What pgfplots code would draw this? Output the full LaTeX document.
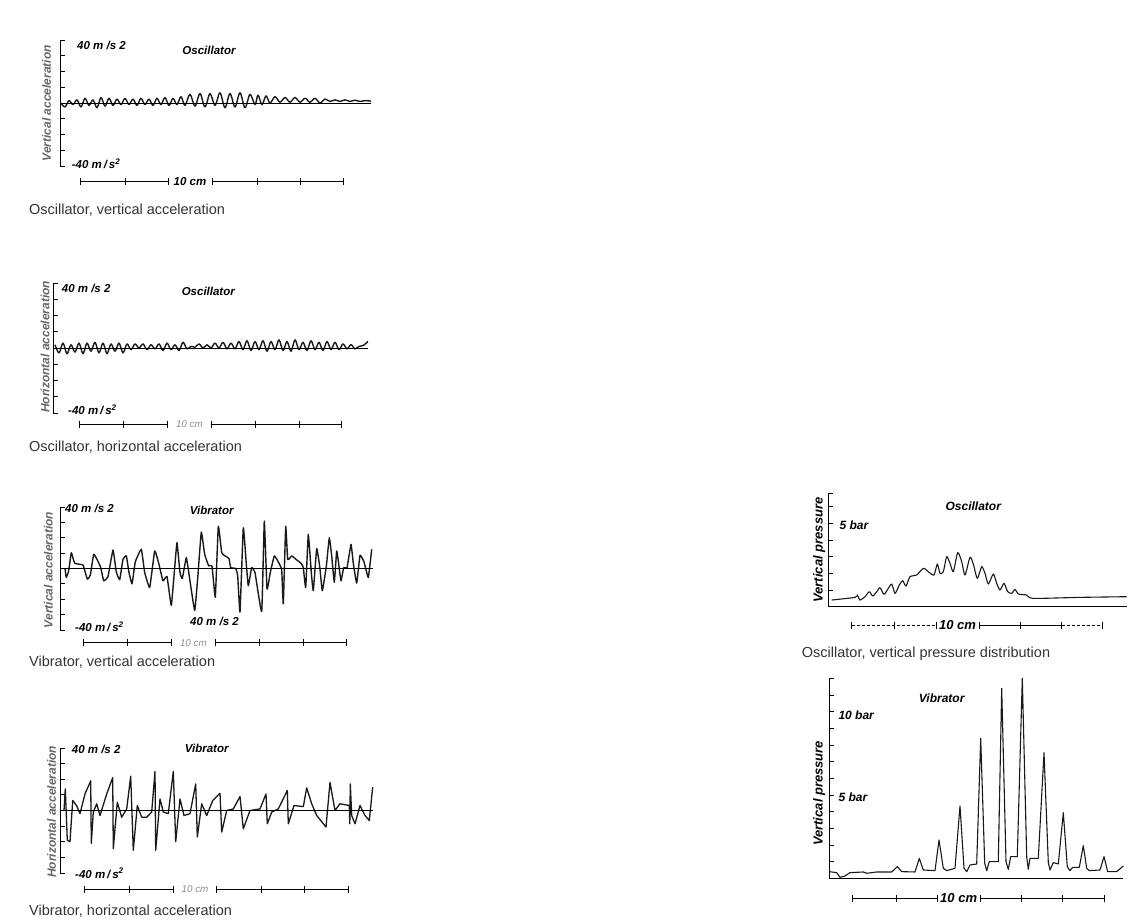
\documentclass[border=0pt]{standalone}
\usepackage{pgfplots}
\pgfplotsset{compat=1.18}
\usepackage{fontspec}
\setmainfont{Liberation Sans}
\newcommand\lbl{\fontsize{11.5}{13}\selectfont\bfseries\itshape}
\newcommand\capt{\fontsize{14.5}{16}\selectfont}
\newcommand\ylab{\fontsize{12}{14}\selectfont\bfseries\itshape}
\newcommand\ylabb{\fontsize{13}{15}\selectfont\bfseries\itshape}
\newcommand\tencm{\fontsize{9.8}{11}\selectfont\itshape}
\newcommand\tencmb{\fontsize{13}{15}\selectfont\bfseries\itshape}
\newcommand\scalebar[9]{%
  \draw[line width=0.9pt] ({#2pt},{-#1pt}) -- ({#4pt},{-#1pt});
  \draw[line width=0.9pt] ({#5pt},{-#1pt}) -- ({#8pt},{-#1pt});
  \foreach \t in {#2,#3,#4,#5,#6,#7,#8}
    \draw[line width=0.9pt] ({\t pt},{-#1pt+3.5pt}) -- ({\t pt},{-#1pt-3.5pt});
  \node[inner sep=0] at ({(#4+#5)/2*1pt},{-#1pt}) {#9};
}
\pgfplotsset{
  accel/.style={scale only axis, anchor=south west, clip=false,
    axis x line=none, axis y line=left, y axis line style={-, line width=0.9pt},
    ymin=-40, ymax=40, ytick={-40,-30,...,40}, yticklabels={},
    tick align=inside, major tick length=5pt,
    ytick style={line width=0.8pt, black}, xtick=\empty},
  press/.style={scale only axis, anchor=south west, clip=false,
    axis lines=left, axis line style={-, line width=0.9pt},
    ymin=0, xtick=\empty, yticklabels={},
    tick align=inside, major tick length=5pt,
    ytick style={line width=0.8pt, black}},
  trace/.style={black!90, line width=1.4pt, no marks, line join=round},
}
\begin{document}
\begin{tikzpicture}
\path[use as bounding box] (0pt,0pt) rectangle (1133pt,-919pt);

% ---------- Panel 1: oscillator vertical acceleration
\begin{axis}[accel, at={(60pt,-166pt)}, width=311pt, height=126pt, xmin=60, xmax=371]
\addplot[trace, smooth, tension=0.55] coordinates {
(61,0)(65,-2.5)(69,1.5)(73,-1)(77,2)(81,-2.5)(85,3)(89,-1.5)(93,2)(97,-3)(101,3.5)(105,-2)(109,3)(113,-1.5)(117,2.5)(121,-1)(125,3)(129,-1)(133,2.5)(137,-1.5)(141,3)(145,-1)(149,2.5)(153,-1.5)(157,3)(161,-1)(165,3.5)(169,-1.5)(173,3)(177,-1)(181,4)(185,-1.5)(190,5.5)(195,-2)(200,6)(205,-2.5)(210,6)(215,-1.5)(220,6.5)(225,-3)(230,6)(235,-2.5)(240,6.5)(245,-3)(250,5.5)(255,-1)(258,5)(262,-1)(266,4.5)(270,0)(275,4)(280,0.5)(285,3.5)(290,0.5)(295,3.5)(300,0.5)(305,3)(310,0.5)(315,3)(320,0)(325,2.5)(330,1)(335,2)(340,1)(345,2)(350,1)(355,1.8)(360,1)(365,1.5)(371,1.2)};
\draw[line width=0.8pt] (axis cs:62,0) -- (axis cs:371,0);
\end{axis}
\node[anchor=west, inner sep=0, font=\lbl] at (77pt,-45pt) {40 m /s 2};
\node[inner sep=0, font=\lbl] at (209pt,-50.7pt) {Oscillator};
\node[anchor=west, inner sep=0, font=\lbl] at (71.7pt,-164pt) {-40 m\,/\,s\textsuperscript{2}};
\node[rotate=90, inner sep=0, font=\ylab, text=black!60] at (46.7pt,-103.3pt) {Vertical acceleration};
\scalebar{181.7}{80}{125}{168}{212}{257}{300}{343}{\lbl 10 cm}
\node[anchor=west, inner sep=0, font=\capt, text=black!80] at (29pt,-210pt) {Oscillator, vertical acceleration};

% ---------- Panel 2: oscillator horizontal acceleration
\begin{axis}[accel, at={(53pt,-413pt)}, width=315pt, height=130pt, xmin=53, xmax=368]
\addplot[trace, smooth, tension=0.55] coordinates {
(55,2)(59,-3)(63,3)(67,-3.5)(71,2)(75,-2.5)(79,3)(83,-3.5)(87,3)(91,-2)(95,3.5)(99,-3)(103,3)(107,-3.5)(111,2.5)(115,-2)(119,3)(123,-3)(127,2.5)(131,-1)(135,2.5)(139,0)(143,2.5)(147,-1)(151,2)(155,-0.5)(159,2.5)(163,-1.5)(167,3)(171,-1)(175,2)(179,-1.5)(183,3.5)(187,-0.5)(191,1)(195,0.5)(199,2.5)(203,0)(207,2)(211,0)(215,3)(219,0)(223,3.5)(227,-0.5)(231,3)(235,-0.5)(239,4)(243,-1)(247,4.5)(251,-1.5)(255,4)(259,-1)(263,4.5)(267,-2)(271,4)(275,-1)(279,5)(283,-1.5)(287,4)(291,-2)(295,5)(299,-1)(303,3.5)(307,-1.5)(311,4.5)(315,-1)(319,3.5)(323,-1.5)(327,4)(331,-1)(335,3.5)(339,-1)(343,2.5)(347,-0.5)(351,2)(355,-0.5)(359,1)(363,1.5)(368,4)};
\draw[line width=0.8pt] (axis cs:55,0) -- (axis cs:368,0);
\end{axis}
\node[anchor=west, inner sep=0, font=\lbl] at (61.7pt,-288.3pt) {40 m /s 2};
\node[inner sep=0, font=\lbl] at (208.3pt,-291.7pt) {Oscillator};
\node[anchor=west, inner sep=0, font=\lbl] at (68pt,-410pt) {-40 m\,/\,s\textsuperscript{2}};
\node[rotate=90, inner sep=0, font=\ylab, text=black!60] at (45pt,-346.7pt) {Horizontal acceleration};
\scalebar{424}{79.3}{123.3}{167.7}{211}{255.7}{299.3}{341.7}{\tencm\color{black!45}10 cm}
\node[anchor=west, inner sep=0, font=\capt, text=black!80] at (29pt,-447pt) {Oscillator, horizontal acceleration};

% ---------- Panel 3: vibrator vertical acceleration
\begin{axis}[accel, at={(60pt,-630pt)}, width=313pt, height=123pt, xmin=60, xmax=373]
\addplot[trace, smooth, tension=0.2] coordinates {
(65,0)(66.3,-5.8)(68.7,-1.5)(71.3,10.3)(74.7,3.4)(83,2.2)(87.3,-6.9)(90.3,-4.3)(93.7,9.2)(97.3,5.6)(100.7,0.6)(103.7,-8)(108,-5.2)(113,12)(116.3,-2.2)(119.7,-7.3)(123,6)(126.3,8.2)(129,-2.6)(132,-10)(135.3,4.3)(141.3,12.5)(144.7,-2.6)(149.7,-12.3)(154.7,11.4)(158.7,3.4)(163,-8)(167,-5.2)(171.3,-24)(174.7,0.6)(177,16.8)(180,-2.6)(182.3,-6.5)(186.3,7.1)(189,-3.7)(194.7,-27.3)(198,-3.7)(201.3,23.7)(204.7,9.2)(208.7,1.7)(212,1.7)(215.3,-18.7)(218.3,27.5)(221.7,10.3)(225,8.2)(229,6.5)(230.7,0.6)(235.7,0)(237.7,-4.7)(240,-28.4)(243.3,26.5)(246.3,2.8)(248.3,-11.2)(251.7,0.6)(255,-2.6)(261.7,-28)(264.3,30.8)(267,-13.3)(270.3,-2.6)(274.3,8.2)(278.3,4.3)(281.7,-0.9)(283.3,-23)(285.7,27.5)(287.7,6)(291.7,8.2)(296.7,5.6)(301,3.4)(303.3,0.6)(305.7,-12.3)(308.3,22.2)(311.3,-2.6)(313.3,-14.4)(316.7,12.9)(319.7,1.3)(322.3,-14.4)(326.3,1.3)(329.3,20)(331.7,8.2)(334.3,-9)(336.7,11.4)(339,1.3)(341,-8)(343.7,0.6)(347,0.4)(351,15.7)(353.3,3.4)(356.7,-9.5)(360,8.6)(364,4.3)(368.3,-5.8)(371.7,12.5)};
\draw[line width=0.6pt] (axis cs:62,0) -- (axis cs:373,0);
\end{axis}
\node[anchor=west, inner sep=0, font=\lbl] at (65pt,-508.3pt) {40 m /s 2};
\node[inner sep=0, font=\lbl] at (211.7pt,-510pt) {Vibrator};
\node[anchor=west, inner sep=0, font=\lbl] at (75pt,-626.7pt) {-40 m\,/\,s\textsuperscript{2}};
\node[anchor=west, inner sep=0, font=\lbl] at (190pt,-621.7pt) {40 m /s 2};
\node[rotate=90, inner sep=0, font=\ylab, text=black!60] at (48.3pt,-570pt) {Vertical acceleration};
\scalebar{642.7}{83.3}{127.7}{171.7}{215}{259.3}{303.3}{346.7}{\tencm\color{black!45}10 cm}
\node[anchor=west, inner sep=0, font=\capt, text=black!80] at (29pt,-661.7pt) {Vibrator, vertical acceleration};

% ---------- Panel 4: vibrator horizontal acceleration
\begin{axis}[accel, at={(60pt,-873pt)}, width=313pt, height=125pt, xmin=60, xmax=373]
\addplot[trace, line width=1.3pt] coordinates {
(64,0)(65.3,13.8)(67.3,-19)(70,-20)(72.7,6.4)(76.7,3)(80,-2)(85,10.6)(90.7,19)(91.3,-21)(93.3,-1)(96.7,4.3)(100,-3.2)(106.7,10.6)(112.7,21)(113.3,-24.5)(117.3,5.3)(121.7,-4.3)(126.7,1)(130.7,22)(133.3,-25.5)(137.3,3.2)(141.7,-4.3)(146.7,-4.3)(151.7,-1)(155,25)(155.7,-25.5)(160,7.4)(163.3,-1)(168.3,-2)(173.3,25)(175.7,-20)(180,7.4)(184,-3.2)(190,-2)(195.7,17)(197.3,-17)(201.7,4.3)(206.7,-3.2)(212.7,6.4)(220,11)(221.7,-13.8)(226.7,0)(233.3,1)(240,9)(243.3,-11.7)(250,0)(260,1)(266,10.6)(267.3,-8.5)(271.7,-1)(278.3,1)(287.3,12.8)(288.3,-8.5)(294,3.2)(303.3,2.5)(306.7,14.5)(311.7,4.3)(316.7,-3.2)(326,-10.6)(330,18)(335,0)(340,4.3)(349.3,3.2)(349.8,-8.5)(350.3,17)(351.7,-3.2)(355,-8.5)(360,3.2)(365,-3.2)(369.3,-6.4)(372.7,15)};
\draw[line width=1.3pt] (axis cs:62,0) -- (axis cs:373,0);
\end{axis}
\node[anchor=west, inner sep=0, font=\lbl] at (71.7pt,-749.3pt) {40 m /s 2};
\node[inner sep=0, font=\lbl] at (206.7pt,-748.3pt) {Vibrator};
\node[anchor=west, inner sep=0, font=\lbl] at (75pt,-873.3pt) {-40 m\,/\,s\textsuperscript{2}};
\node[rotate=90, inner sep=0, font=\ylab, text=black!60] at (51.7pt,-811.7pt) {Horizontal acceleration};
\scalebar{889}{84.3}{129.3}{173.3}{216.7}{261}{304.3}{348.3}{\tencm\color{black!45}10 cm}
\node[anchor=west, inner sep=0, font=\capt, text=black!80] at (29pt,-911pt) {Vibrator, horizontal acceleration};

% ---------- Panel 5: oscillator vertical pressure
\begin{axis}[press, at={(828.3pt,-606.7pt)}, width=298.7pt, height=113.4pt, xmin=828.3, xmax=1127, ymax=6.8, ytick={0,1,...,6,6.8}]
\addplot[trace, line width=1.1pt, smooth, tension=0.4] coordinates {
(831.7,0.4)(855,0.56)(857.3,0.7)(860,0.4)(865,0.6)(869.3,0.9)(872.7,0.64)(876.7,0.9)(880,1.14)(884,0.74)(888.3,1.1)(891.7,1.36)(895,0.8)(899.3,1.3)(902.7,1.56)(906,1.24)(910,1.8)(916.7,1.9)(923.3,2.3)(928.3,2.1)(934,1.9)(937.3,2.56)(940,2.0)(943.3,2.1)(946.7,3.0)(950,2.6)(953.3,2.1)(957.7,3.24)(961.7,2.7)(965,1.9)(970,2.96)(973.3,2.56)(977.3,1.7)(981.7,2.4)(985,2.0)(988.3,1.36)(993.3,1.96)(996.7,1.4)(1000,1.0)(1004,1.4)(1007.7,0.9)(1011.7,0.8)(1015,1.04)(1018.3,0.76)(1026.7,0.7)(1033.3,0.5)(1080,0.56)(1126.7,0.6)};
\end{axis}
\node[anchor=west, inner sep=0, font=\fontsize{12}{14}\selectfont\bfseries\itshape] at (839.3pt,-525pt) {5 bar};
\node[inner sep=0, font=\fontsize{12}{14}\selectfont\bfseries\itshape] at (973.3pt,-506.7pt) {Oscillator};
\node[rotate=90, inner sep=0, font=\ylabb] at (819.3pt,-550pt) {Vertical pressure};
\draw[line width=0.9pt, dash pattern=on 3pt off 2pt] (851.7pt,-625pt) -- (936pt,-625pt);
\draw[line width=0.9pt] (979pt,-625pt) -- (1061.7pt,-625pt);
\draw[line width=0.9pt, dash pattern=on 3pt off 2pt] (1061.7pt,-625pt) -- (1102.7pt,-625pt);
\foreach \t in {851.7,894.3,936,979,1020,1061.7,1102.7}
  \draw[line width=0.9pt] ({\t pt},-621.5pt) -- ({\t pt},-628.5pt);
\node[inner sep=0, font=\tencmb] at (957.5pt,-625pt) {10 cm};
\node[anchor=west, inner sep=0, font=\capt, text=black!80] at (801.7pt,-654pt) {Oscillator, vertical pressure distribution};

% ---------- Panel 6: vibrator vertical pressure
\begin{axis}[press, at={(829.3pt,-878.3pt)}, width=294pt, height=200pt, xmin=829.3, xmax=1123.3, ymax=12, ytick={0,1,...,12}]
\addplot[trace, line width=1.1pt] coordinates {
(829.3,0.4)(836.7,0.34)(840,0.06)(845,0.14)(850,0.34)(863.3,0.38)(866.7,0.3)(876.7,0.38)(891.7,0.38)(897.3,0.7)(901.7,0.4)(915,0.38)(919.3,1.2)(923.3,0.5)(935,0.46)(939,2.3)(943.3,0.6)(946.7,0.46)(955,0.6)(960,4.34)(964,0.6)(966.7,0.4)(970,0.8)(976.7,0.86)(980.7,8.4)(984.7,0.9)(986.7,0.46)(989.3,1.0)(998.3,1.0)(1001.7,11.4)(1006,1.0)(1008.3,0.54)(1010.7,1.3)(1017.3,1.3)(1022.3,12.0)(1026.7,1.3)(1028.3,0.54)(1030,1.2)(1038.3,1.2)(1044,7.54)(1048.3,0.94)(1050,0.5)(1053.3,0.94)(1058.3,0.86)(1063.3,3.94)(1067.3,0.7)(1070,0.46)(1072.7,0.66)(1079.3,0.66)(1083.3,1.96)(1086.7,0.6)(1089.3,0.46)(1100,0.5)(1104,1.3)(1107.7,0.4)(1116.7,0.4)(1123.3,0.74)};
\end{axis}
\node[anchor=west, inner sep=0, font=\fontsize{12}{14}\selectfont\bfseries\itshape] at (838.3pt,-715pt) {10 bar};
\node[anchor=west, inner sep=0, font=\fontsize{12}{14}\selectfont\bfseries\itshape] at (838.3pt,-797.3pt) {5 bar};
\node[inner sep=0, font=\fontsize{12}{14}\selectfont\bfseries\itshape] at (941.7pt,-698.3pt) {Vibrator};
\node[rotate=90, inner sep=0, font=\ylabb] at (819.3pt,-793.3pt) {Vertical pressure};
\scalebar{898.3}{852.7}{896.7}{937.3}{980}{1021}{1062.7}{1104}{\tencmb 10 cm}
\end{tikzpicture}
\end{document}
